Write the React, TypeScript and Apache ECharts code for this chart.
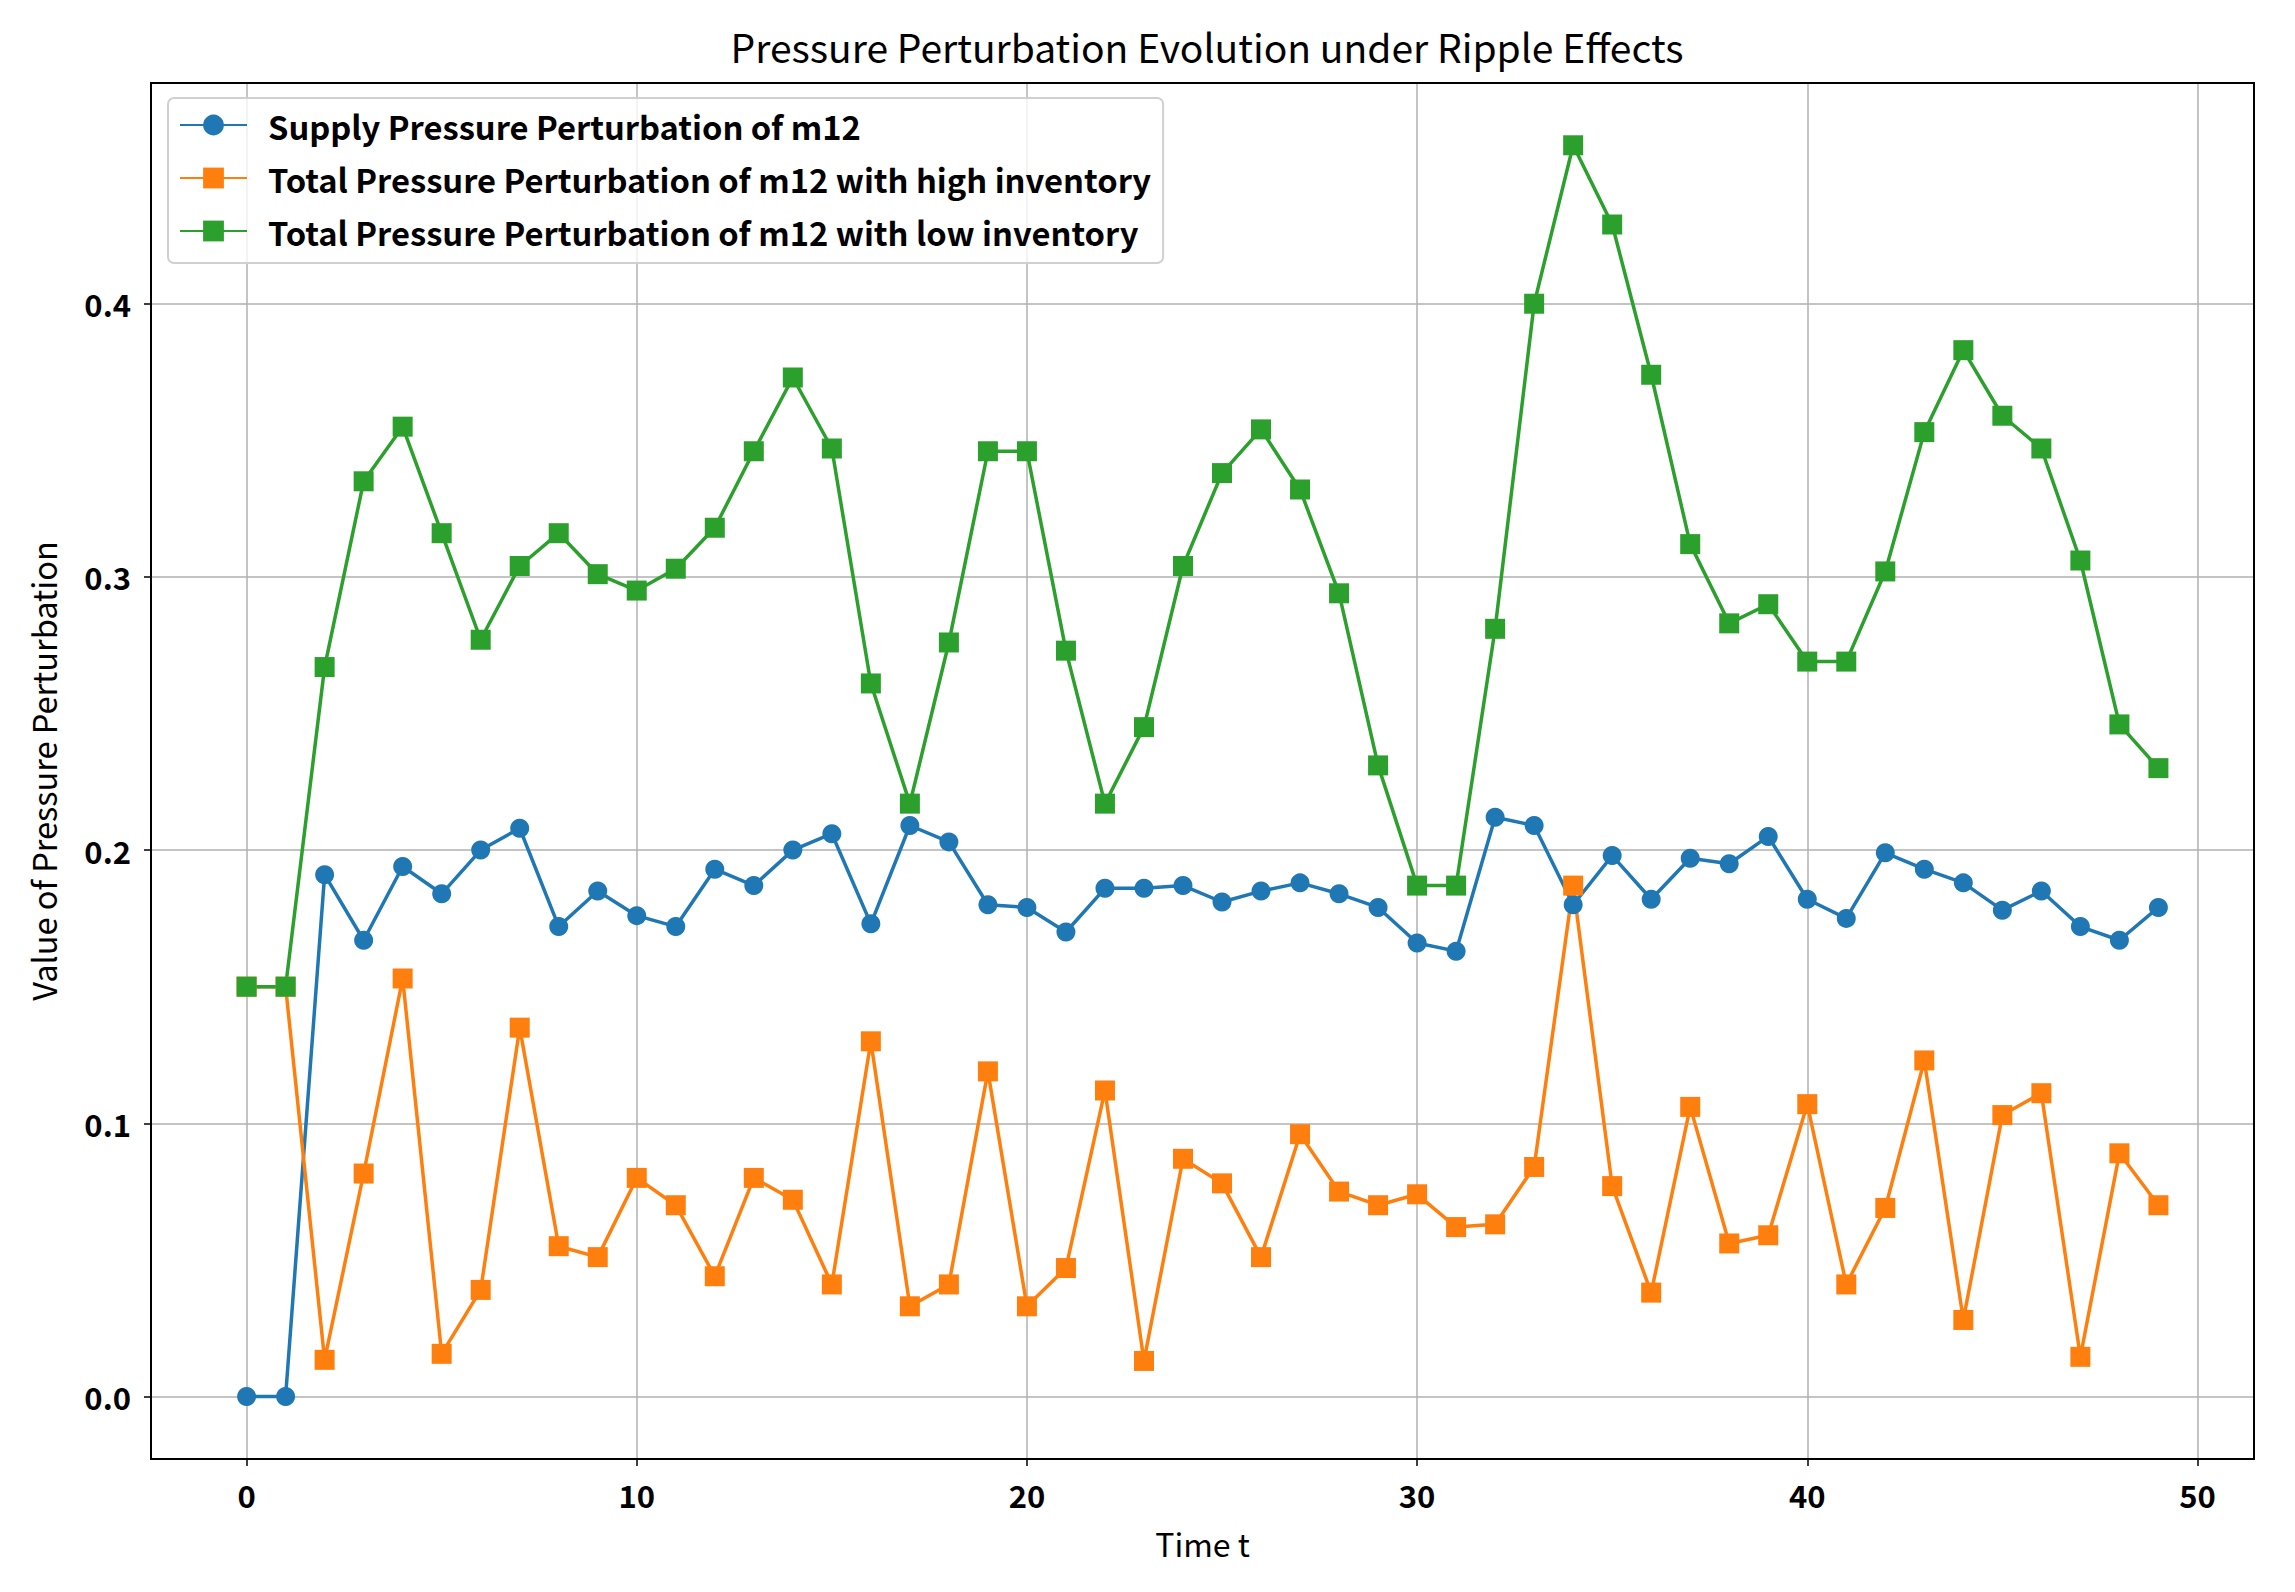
import React, { useEffect, useRef } from "react";
import * as echarts from "echarts";

const timeSteps: number[] = Array.from({ length: 50 }, (_, i) => i);

const supplyPressure: number[] = [
  0, 0, 0.191, 0.167, 0.194, 0.184, 0.2, 0.208, 0.172, 0.185,
  0.176, 0.172, 0.193, 0.187, 0.2, 0.206, 0.173, 0.209, 0.203, 0.18,
  0.179, 0.17, 0.186, 0.186, 0.187, 0.181, 0.185, 0.188, 0.184, 0.179,
  0.166, 0.163, 0.212, 0.209, 0.18, 0.198, 0.182, 0.197, 0.195, 0.205,
  0.182, 0.175, 0.199, 0.193, 0.188, 0.178, 0.185, 0.172, 0.167, 0.179,
];

const highInventory: number[] = [
  0.15, 0.15, 0.0134, 0.0816, 0.153, 0.0156, 0.039, 0.135, 0.055, 0.051,
  0.08, 0.07, 0.044, 0.08, 0.072, 0.041, 0.13, 0.033, 0.041, 0.119,
  0.033, 0.047, 0.112, 0.013, 0.087, 0.078, 0.051, 0.096, 0.075, 0.07,
  0.074, 0.062, 0.063, 0.084, 0.187, 0.077, 0.038, 0.106, 0.056, 0.059,
  0.107, 0.041, 0.069, 0.123, 0.028, 0.103, 0.111, 0.0145, 0.089, 0.07,
];

const lowInventory: number[] = [
  0.15, 0.15, 0.267, 0.335, 0.355, 0.316, 0.277, 0.304, 0.316, 0.301,
  0.295, 0.303, 0.318, 0.346, 0.373, 0.347, 0.261, 0.217, 0.276, 0.346,
  0.346, 0.273, 0.217, 0.245, 0.304, 0.338, 0.354, 0.332, 0.294, 0.231,
  0.187, 0.187, 0.281, 0.4, 0.458, 0.429, 0.374, 0.312, 0.283, 0.29,
  0.269, 0.269, 0.302, 0.353, 0.383, 0.359, 0.347, 0.306, 0.246, 0.23,
];

const xTicks: number[] = [0, 10, 20, 30, 40, 50];
const yTicks: number[] = [0, 0.1, 0.2, 0.3, 0.4];

const seriesNames: string[] = [
  "Supply Pressure Perturbation of m12",
  "Total Pressure Perturbation of m12 with high inventory",
  "Total Pressure Perturbation of m12 with low inventory",
];

const titleText = "Pressure Perturbation Evolution under Ripple Effects";
const xAxisName = "Time t";
const yAxisName = "Value of Pressure Perturbation";

const FONT = "'Noto Sans CJK SC', 'Noto Sans', sans-serif";

export default function App() {
  const ref = useRef<HTMLDivElement>(null);

  useEffect(() => {
    if (!ref.current) return;
    const chart = echarts.init(ref.current, undefined, { renderer: "svg" });
    const pair = (ys: number[]) => timeSteps.map((t, i) => [t, ys[i]]);
    const isMult = (v: number, step: number) => {
      const r = v / step;
      return Math.abs(r - Math.round(r)) < 1e-6;
    };
    const lineSeries = (name: string, data: number[], color: string, symbol: string, size: number) => ({
      type: "line",
      name,
      data: pair(data),
      symbol,
      symbolSize: size,
      showAllSymbol: true,
      lineStyle: { color, width: 3.5 },
      itemStyle: { color, borderWidth: 0 },
      emphasis: { disabled: true },
    });
    chart.setOption({
      animation: false,
      backgroundColor: "#ffffff",
      textStyle: { fontFamily: FONT },
      title: {
        text: titleText,
        left: 1202,
        textAlign: "center",
        top: 21,
        textStyle: { fontFamily: FONT, fontSize: 39, fontWeight: "normal", color: "#000" },
      },
      legend: {
        left: 168,
        top: 98,
        orient: "vertical",
        backgroundColor: "rgba(255,255,255,0.8)",
        borderColor: "#d0d0d0",
        borderWidth: 2,
        borderRadius: 6,
        padding: [10, 12, 15, 11],
        itemWidth: 67,
        itemHeight: 26,
        itemGap: 19,
        textStyle: {
          fontFamily: FONT,
          fontSize: 32.7,
          fontWeight: "bold",
          color: "#000",
          lineHeight: 34,
          padding: [0, 0, 0, 16],
        },
        data: seriesNames,
      },
      grid: { left: 151, right: 41, top: 83, bottom: 133, show: false },
      xAxis: {
        type: "value",
        min: -2.45,
        max: 51.45,
        splitNumber: 5,
        name: xAxisName,
        nameLocation: "middle",
        nameGap: 68,
        nameTextStyle: { fontFamily: FONT, fontSize: 32, color: "#000" },
        axisLine: { show: true, onZero: false, lineStyle: { color: "#000", width: 2 } },
        axisTick: { show: true, length: 7, customValues: xTicks, lineStyle: { color: "#000", width: 1.5 } },
        axisLabel: {
          margin: 20,
          fontFamily: FONT,
          fontSize: 31,
          fontWeight: "bold",
          color: "#000",
          customValues: xTicks,
          formatter: (v: number) => (isMult(v, 10) ? String(Math.round(v)) : ""),
        },
        splitLine: { show: true, lineStyle: { color: "#b0b0b0", width: 1.5 } },
      },
      yAxis: {
        type: "value",
        min: -0.0229,
        max: 0.4808,
        splitNumber: 5,
        name: yAxisName,
        nameLocation: "middle",
        nameGap: 92,
        nameRotate: 90,
        nameTextStyle: { fontFamily: FONT, fontSize: 32.5, color: "#000" },
        axisLine: { show: true, onZero: false, lineStyle: { color: "#000", width: 2 } },
        axisTick: { show: true, length: 7, customValues: yTicks, lineStyle: { color: "#000", width: 1.5 } },
        axisLabel: {
          margin: 20,
          fontFamily: FONT,
          fontSize: 31,
          fontWeight: "bold",
          color: "#000",
          customValues: yTicks,
          formatter: (v: number) => (isMult(v, 0.1) ? (Math.round(v * 10) / 10).toFixed(1) : ""),
        },
        splitLine: { show: true, lineStyle: { color: "#b0b0b0", width: 1.5 } },
      },
      series: [
        lineSeries(seriesNames[0], supplyPressure, "#1f77b4", "circle", 19),
        lineSeries(seriesNames[1], highInventory, "#ff7f0e", "rect", 20),
        lineSeries(seriesNames[2], lowInventory, "#2ca02c", "rect", 20),
      ],
      graphic: [
        {
          type: "rect",
          shape: { x: 151, y: 83, width: 2295 - 41 - 151, height: 1592 - 133 - 83 },
          style: { fill: "none", stroke: "#000", lineWidth: 2 },
          silent: true,
          z: 100,
        },
      ],
    });
    return () => chart.dispose();
  }, []);

  return (
    <div
      ref={ref}
      style={{ position: "fixed", left: 0, top: 0, width: 2295, height: 1592, background: "#fff" }}
    />
  );
}
